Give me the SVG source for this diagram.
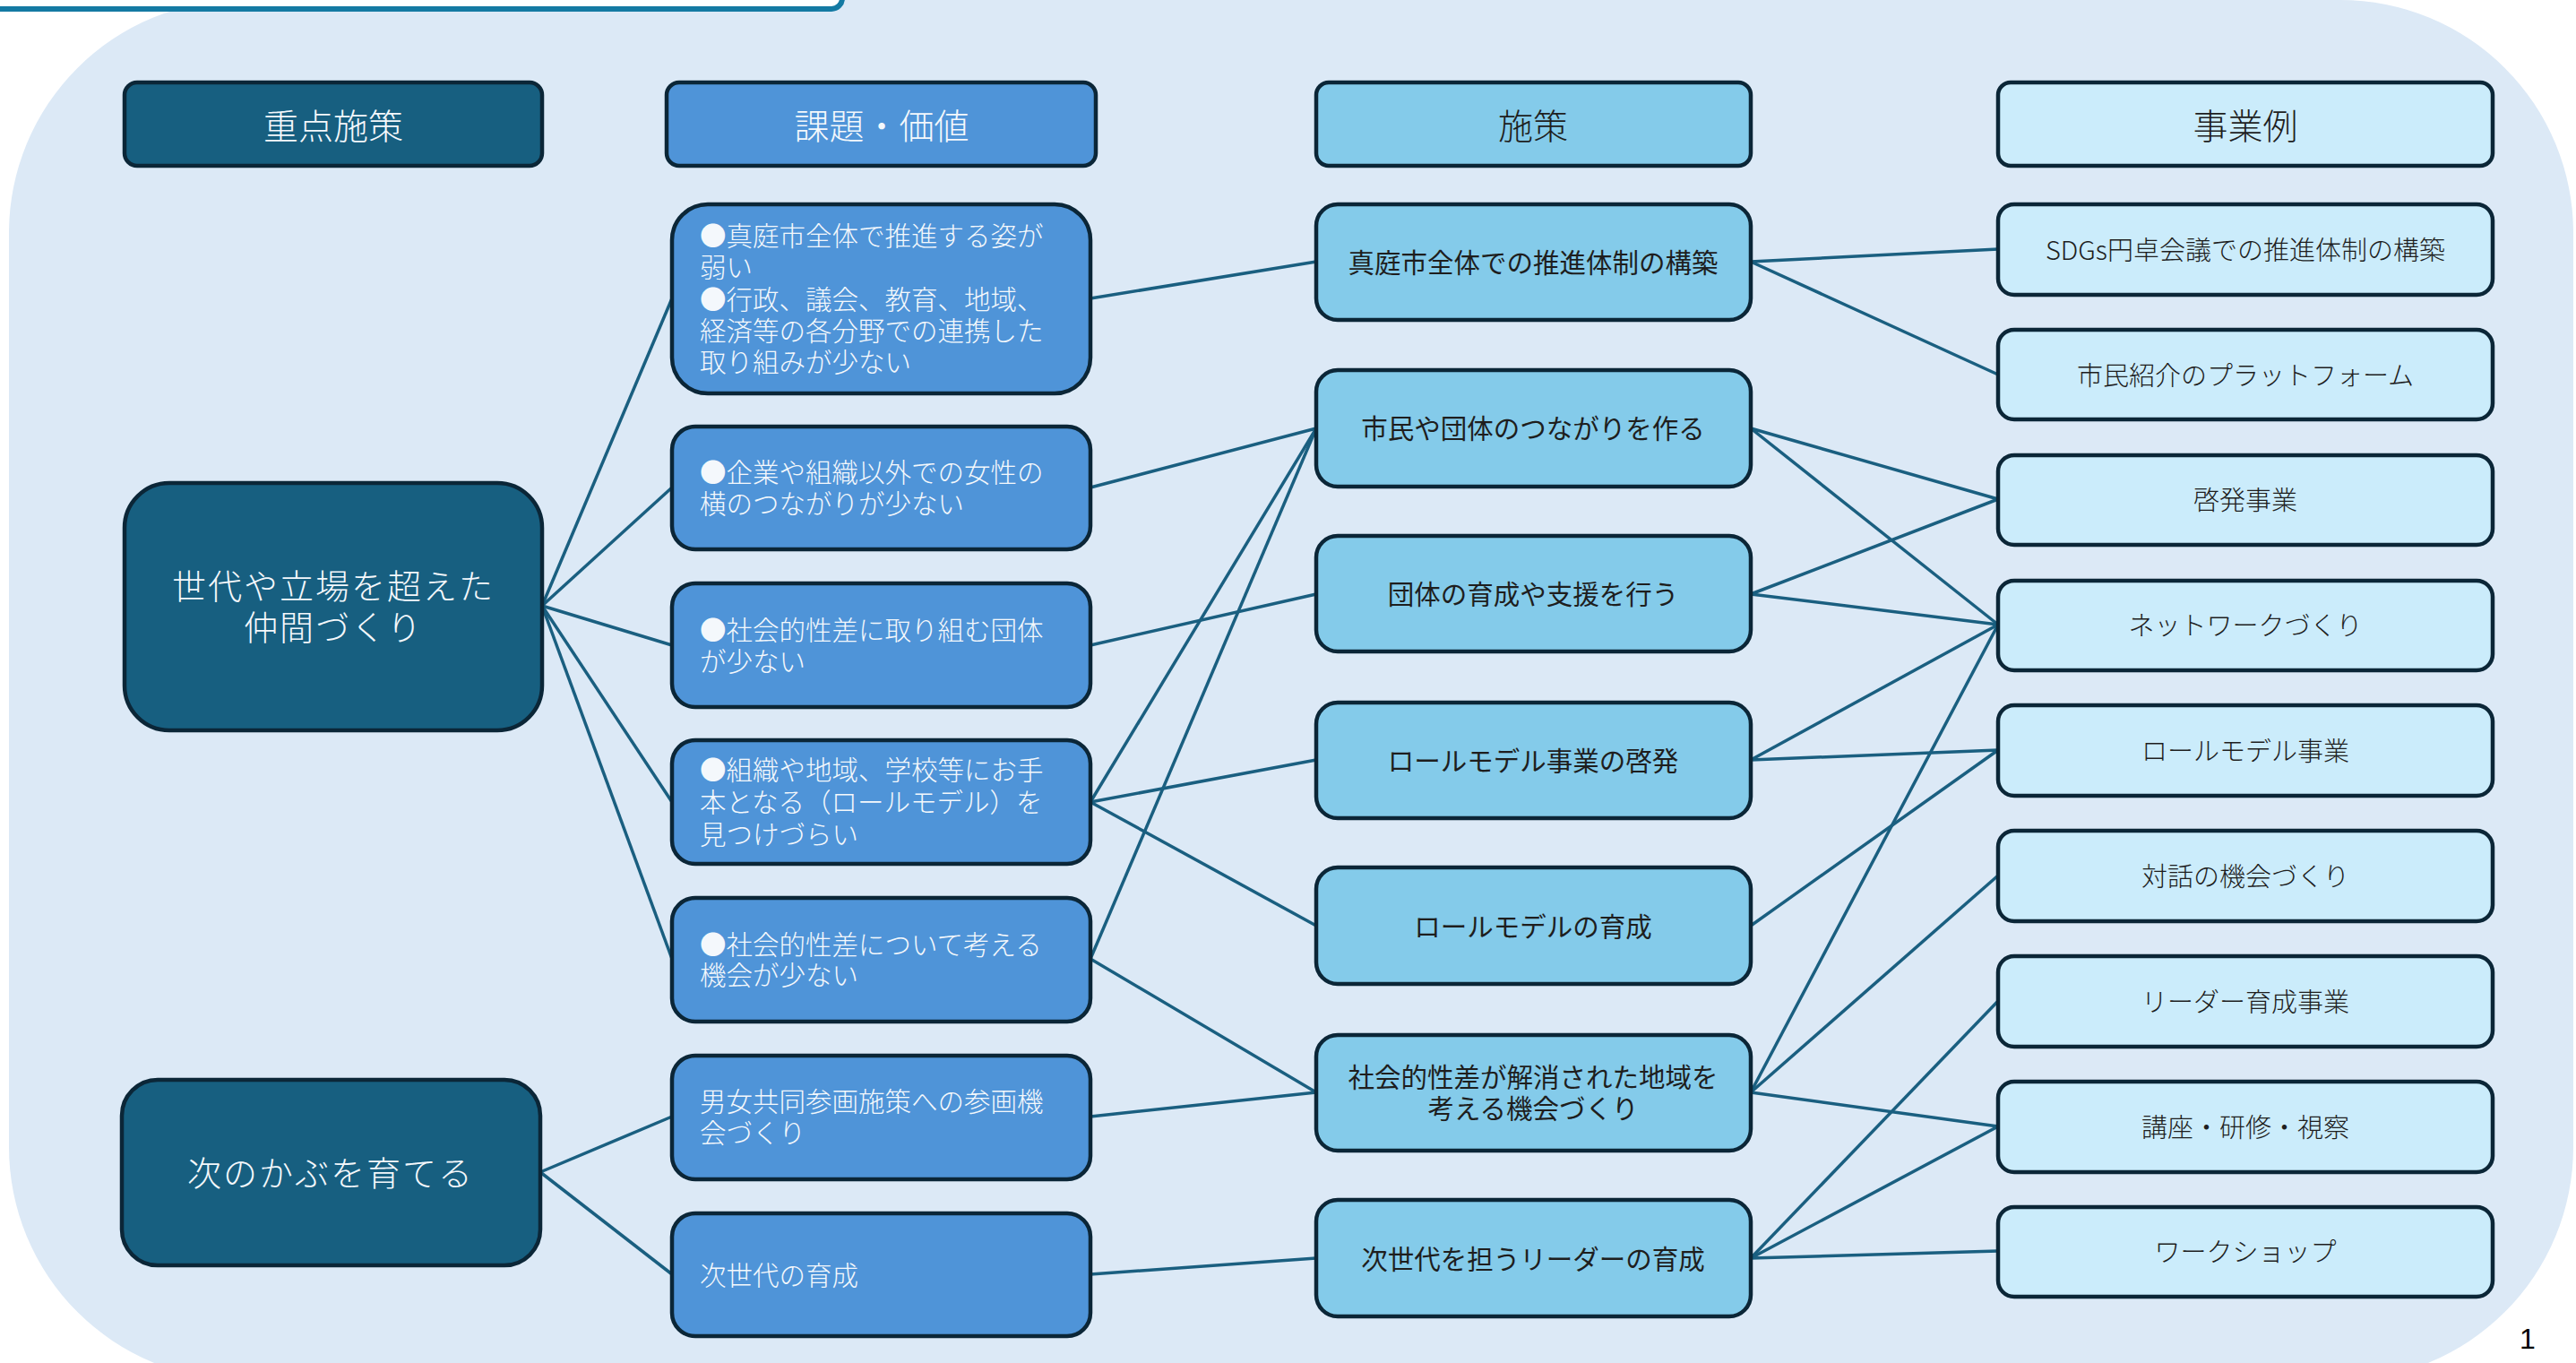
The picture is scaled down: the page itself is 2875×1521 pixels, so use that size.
<svg xmlns="http://www.w3.org/2000/svg" width="2875" height="1521" viewBox="0 0 2875 1521">
<style>
.bg{fill:#dce9f6}
.n{stroke:#0b2637;stroke-width:4.5}
.c1{fill:#175f80}
.c2{fill:#4f94d8}
.c3{fill:#84cbea}
.c4{fill:#cbecfb}
text{font-family:"Noto Sans CJK JP","Noto Sans",sans-serif;dominant-baseline:central}
.tw{fill:#f4f8fc;font-weight:300}
.td{fill:#1e1e1e}
.hd{font-size:39px;text-anchor:middle}
.t1{font-size:38px;text-anchor:middle;letter-spacing:2px}
.t2{font-size:29.5px}
.t3{font-size:29.5px;text-anchor:middle}
.t4{font-size:29px;text-anchor:middle;font-weight:300}
#connectors line{stroke:#1a5f80;stroke-width:3.5;fill:none}
</style>
<rect width="2875" height="1521" fill="#ffffff"/>
<rect class="bg" x="10" y="0" width="2862" height="1540" rx="260" ry="260"/>
<rect x="-20" y="-60" width="960" height="70" rx="12" fill="#ffffff" stroke="#147aa3" stroke-width="6"/>

<g id="connectors">
<line x1="605" y1="676" x2="750" y2="333"/>
<line x1="605" y1="676" x2="750" y2="544"/>
<line x1="605" y1="676" x2="750" y2="720"/>
<line x1="605" y1="676" x2="750" y2="895"/>
<line x1="605" y1="676" x2="750" y2="1070"/>
<line x1="603" y1="1308" x2="750" y2="1246"/>
<line x1="603" y1="1308" x2="750" y2="1422"/>

<line x1="1217" y1="333" x2="1469" y2="292"/>
<line x1="1217" y1="544" x2="1469" y2="478"/>
<line x1="1217" y1="720" x2="1469" y2="663"/>
<line x1="1217" y1="895" x2="1469" y2="478"/>
<line x1="1217" y1="895" x2="1469" y2="848"/>
<line x1="1217" y1="895" x2="1469" y2="1033"/>
<line x1="1217" y1="1070" x2="1469" y2="478"/>
<line x1="1217" y1="1070" x2="1469" y2="1219"/>
<line x1="1217" y1="1246" x2="1469" y2="1219"/>
<line x1="1217" y1="1422" x2="1469" y2="1404"/>

<line x1="1954" y1="292" x2="2230" y2="278"/>
<line x1="1954" y1="292" x2="2230" y2="418"/>
<line x1="1954" y1="478" x2="2230" y2="557"/>
<line x1="1954" y1="478" x2="2230" y2="697"/>
<line x1="1954" y1="663" x2="2230" y2="557"/>
<line x1="1954" y1="663" x2="2230" y2="697"/>
<line x1="1954" y1="848" x2="2230" y2="697"/>
<line x1="1954" y1="848" x2="2230" y2="837"/>
<line x1="1954" y1="1033" x2="2230" y2="837"/>
<line x1="1954" y1="1219" x2="2230" y2="697"/>
<line x1="1954" y1="1219" x2="2230" y2="977"/>
<line x1="1954" y1="1219" x2="2230" y2="1257"/>
<line x1="1954" y1="1404" x2="2230" y2="1117"/>
<line x1="1954" y1="1404" x2="2230" y2="1257"/>
<line x1="1954" y1="1404" x2="2230" y2="1396"/>
</g>

<g id="h1"><rect class="n c1" x="139" y="92" width="466" height="93" rx="14"/><text class="hd tw" x="372" y="138">重点施策</text></g>
<g id="h2"><rect class="n c2" x="744" y="92" width="479" height="93" rx="14"/><text class="hd tw" x="984" y="138">課題・価値</text></g>
<g id="h3"><rect class="n c3" x="1469" y="92" width="485" height="93" rx="14"/><text class="hd td" x="1711" y="138" style="font-weight:300">施策</text></g>
<g id="h4"><rect class="n c4" x="2230" y="92" width="552" height="93" rx="14"/><text class="hd td" x="2506" y="138" style="font-weight:300">事業例</text></g>

<g id="p1"><rect class="n c1" x="139" y="539" width="466" height="276" rx="50"/><text class="t1 tw"><tspan x="372" y="651">世代や立場を超えた</tspan><tspan x="372" y="697">仲間づくり</tspan></text></g>
<g id="p2"><rect class="n c1" x="136" y="1205" width="467" height="207" rx="40"/><text class="t1 tw" x="369" y="1306">次のかぶを育てる</text></g>

<g id="k1"><rect class="n c2" x="750" y="228" width="467" height="211" rx="40"/>
<text class="t2 tw"><tspan x="781" y="261">●真庭市全体で推進する姿が</tspan><tspan x="781" y="296">弱い</tspan><tspan x="781" y="332">●行政、議会、教育、地域、</tspan><tspan x="781" y="367">経済等の各分野での連携した</tspan><tspan x="781" y="402">取り組みが少ない</tspan></text></g>
<g id="k2"><rect class="n c2" x="750" y="476" width="467" height="137" rx="26"/>
<text class="t2 tw"><tspan x="781" y="525">●企業や組織以外での女性の</tspan><tspan x="781" y="560">横のつながりが少ない</tspan></text></g>
<g id="k3"><rect class="n c2" x="750" y="651" width="467" height="138" rx="26"/>
<text class="t2 tw"><tspan x="781" y="701">●社会的性差に取り組む団体</tspan><tspan x="781" y="736">が少ない</tspan></text></g>
<g id="k4"><rect class="n c2" x="750" y="826" width="467" height="138" rx="26"/>
<text class="t2 tw"><tspan x="781" y="857">●組織や地域、学校等にお手</tspan><tspan x="781" y="893">本となる（ロールモデル）を</tspan><tspan x="781" y="929">見つけづらい</tspan></text></g>
<g id="k5"><rect class="n c2" x="750" y="1002" width="467" height="138" rx="26"/>
<text class="t2 tw"><tspan x="781" y="1052">●社会的性差について考える</tspan><tspan x="781" y="1086">機会が少ない</tspan></text></g>
<g id="k6"><rect class="n c2" x="750" y="1178" width="467" height="138" rx="26"/>
<text class="t2 tw"><tspan x="781" y="1227">男女共同参画施策への参画機</tspan><tspan x="781" y="1262">会づくり</tspan></text></g>
<g id="k7"><rect class="n c2" x="750" y="1354" width="467" height="137" rx="26"/>
<text class="t2 tw" x="781" y="1421">次世代の育成</text></g>

<g id="s1"><rect class="n c3" x="1469" y="228" width="485" height="129" rx="24"/><text class="t3 td" x="1711" y="291">真庭市全体での推進体制の構築</text></g>
<g id="s2"><rect class="n c3" x="1469" y="413" width="485" height="130" rx="24"/><text class="t3 td" x="1711" y="476">市民や団体のつながりを作る</text></g>
<g id="s3"><rect class="n c3" x="1469" y="598" width="485" height="129" rx="24"/><text class="t3 td" x="1711" y="661">団体の育成や支援を行う</text></g>
<g id="s4"><rect class="n c3" x="1469" y="784" width="485" height="129" rx="24"/><text class="t3 td" x="1711" y="847">ロールモデル事業の啓発</text></g>
<g id="s5"><rect class="n c3" x="1469" y="968" width="485" height="130" rx="24"/><text class="t3 td" x="1711" y="1032">ロールモデルの育成</text></g>
<g id="s6"><rect class="n c3" x="1469" y="1155" width="485" height="129" rx="24"/><text class="t3 td"><tspan x="1711" y="1200">社会的性差が解消された地域を</tspan><tspan x="1711" y="1235">考える機会づくり</tspan></text></g>
<g id="s7"><rect class="n c3" x="1469" y="1339" width="485" height="130" rx="24"/><text class="t3 td" x="1711" y="1403">次世代を担うリーダーの育成</text></g>

<g id="e1"><rect class="n c4" x="2230" y="228" width="552" height="101" rx="18"/><text class="t4 td" x="2506" y="277">SDGs円卓会議での推進体制の構築</text></g>
<g id="e2"><rect class="n c4" x="2230" y="368" width="552" height="100" rx="18"/><text class="t4 td" x="2506" y="417">市民紹介のプラットフォーム</text></g>
<g id="e3"><rect class="n c4" x="2230" y="508" width="552" height="100" rx="18"/><text class="t4 td" x="2506" y="556">啓発事業</text></g>
<g id="e4"><rect class="n c4" x="2230" y="648" width="552" height="100" rx="18"/><text class="t4 td" x="2506" y="696">ネットワークづくり</text></g>
<g id="e5"><rect class="n c4" x="2230" y="787" width="552" height="101" rx="18"/><text class="t4 td" x="2506" y="836">ロールモデル事業</text></g>
<g id="e6"><rect class="n c4" x="2230" y="927" width="552" height="101" rx="18"/><text class="t4 td" x="2506" y="976">対話の機会づくり</text></g>
<g id="e7"><rect class="n c4" x="2230" y="1067" width="552" height="101" rx="18"/><text class="t4 td" x="2506" y="1116">リーダー育成事業</text></g>
<g id="e8"><rect class="n c4" x="2230" y="1207" width="552" height="101" rx="18"/><text class="t4 td" x="2506" y="1256">講座・研修・視察</text></g>
<g id="e9"><rect class="n c4" x="2230" y="1347" width="552" height="100" rx="18"/><text class="t4 td" x="2506" y="1395">ワークショップ</text></g>

<text x="2821" y="1494" style="font-family:'Liberation Sans',Arial,sans-serif;font-size:32px;fill:#000;text-anchor:middle">1</text>
</svg>
